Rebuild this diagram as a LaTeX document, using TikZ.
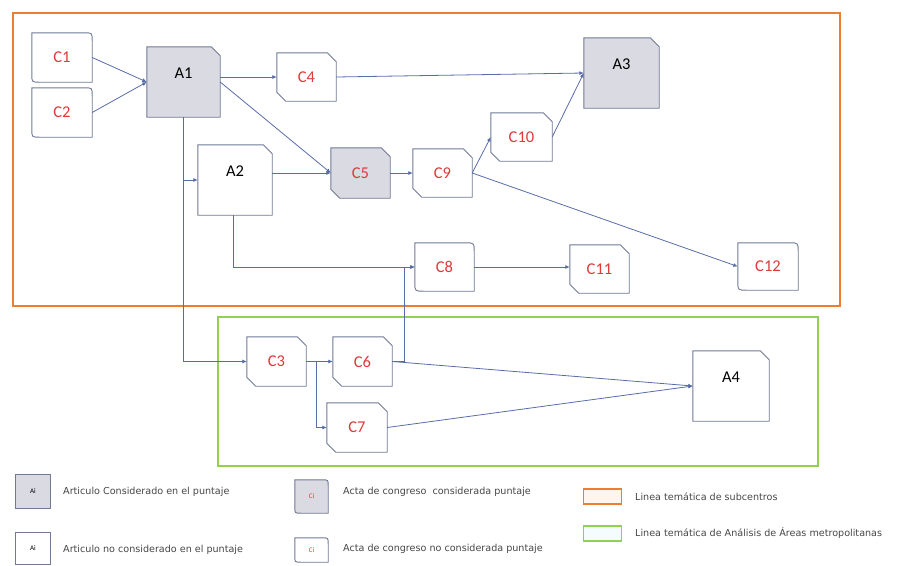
\documentclass[tikz,border=0pt]{standalone}
\usepackage{fontspec}
\setmainfont{Carlito}
\newfontfamily\legfont{DejaVu Sans}
\usetikzlibrary{arrows.meta,backgrounds}
\definecolor{bord}{RGB}{112,122,150}
\definecolor{gfill}{RGB}{218,218,226}
\definecolor{lred}{RGB}{222,58,58}
\definecolor{conn}{RGB}{88,108,168}
\definecolor{orng}{RGB}{237,125,49}
\definecolor{grn}{RGB}{146,208,80}
\definecolor{ltxt}{RGB}{70,70,70}
\newcommand\snipshape[3]{% name, fill, cut
  \draw[bord, line width=0.9pt, fill=#2] (#1.north west) -- ([xshift=-#3]#1.north east) -- ([yshift=-#3]#1.north east) -- (#1.south east) -- ([xshift=#3]#1.south west) -- ([yshift=#3]#1.south west) -- cycle;}
\newcommand\roundshape[3]{% name, fill, radius
  \draw[bord, line width=0.9pt, fill=#2] (#1.north west) -- ([xshift=-#3]#1.north east) .. controls (#1.north east) .. ([yshift=-#3]#1.north east) -- (#1.south east) -- ([xshift=#3]#1.south west) .. controls (#1.south west) .. ([yshift=#3]#1.south west) -- cycle;}
\newcommand\ashape[2]{% name, fill
  \draw[bord, line width=0.9pt, fill=#2] (#1.north west) -- ([xshift=-9pt]#1.north east) -- ([yshift=-9pt]#1.north east) -- (#1.south east) -- (#1.south west) -- cycle;}
\tikzset{
  cnode/.style={inner sep=0pt, text=lred, font=\fontsize{16.5}{16.5}\selectfont},
  anode/.style={inner sep=0pt, text=black, font=\fontsize{16.5}{16.5}\selectfont},
  alab/.style={text=black, font=\fontsize{16.5}{16.5}\selectfont, inner sep=0pt},
  conn/.style={draw=conn, line width=0.8pt, -{Latex[length=4.5pt,width=4pt]}},
  legtxt/.style={anchor=west, inner sep=0pt, text=ltxt, font=\legfont\fontsize{9.6}{9.6}\selectfont},
}
\begin{document}
\begin{tikzpicture}[x=1pt,y=-1pt]
\useasboundingbox (0,0) rectangle (905,565);
% frames
\draw[orng, line width=2pt] (13,13) rectangle (840,306);
\draw[grn, line width=2pt] (218,317) rectangle (818,466);
% nodes
\node[cnode, minimum width=60pt, minimum height=49pt] (C1) at (62,57.5) {C1};
\node[cnode, minimum width=60pt, minimum height=49pt] (C2) at (62,112.5) {C2};
\node[anode, minimum width=73pt, minimum height=70pt] (A1) at (183.5,82) {};
\node[cnode, minimum width=59pt, minimum height=48pt] (C4) at (306.5,77) {C4};
\node[anode, minimum width=75pt, minimum height=70pt] (A3) at (621.5,73) {};
\node[anode, minimum width=74pt, minimum height=70pt] (A2) at (235,180) {};
\node[cnode, minimum width=59pt, minimum height=50pt] (C5) at (360.5,173) {C5};
\node[cnode, minimum width=59pt, minimum height=48pt] (C9) at (442.5,173) {C9};
\node[cnode, minimum width=61pt, minimum height=48pt] (C10) at (521.5,137) {C10};
\node[cnode, minimum width=59pt, minimum height=48pt] (C8) at (444.5,267) {C8};
\node[cnode, minimum width=59pt, minimum height=48pt] (C11) at (599.5,269) {C11};
\node[cnode, minimum width=60pt, minimum height=47pt] (C12) at (768,266.5) {C12};
\node[cnode, minimum width=59pt, minimum height=49pt] (C3) at (276.5,361.5) {C3};
\node[cnode, minimum width=59pt, minimum height=49pt] (C6) at (362.5,361.5) {C6};
\node[cnode, minimum width=60pt, minimum height=49pt] (C7) at (357,427.5) {C7};
\node[anode, minimum width=76pt, minimum height=70pt] (A4) at (731,386) {};
% A labels (upper part of the box)
\node[alab] (A1l) at ([yshift=9pt]A1.center) {A1};
\node[alab] (A2l) at ([yshift=9pt]A2.center) {A2};
\node[alab] (A3l) at ([yshift=9pt]A3.center) {A3};
\node[alab] (A4l) at ([yshift=9pt]A4.center) {A4};
% legend nodes
\node[anode, minimum width=34pt, minimum height=33pt, font=\fontsize{7}{7}\selectfont] (LA1) at (33,491.5) {Ai};
\node[anode, minimum width=34pt, minimum height=31pt, font=\fontsize{7}{7}\selectfont] (LA2) at (33,548.5) {Ai};
\node[cnode, minimum width=33pt, minimum height=33pt, font=\fontsize{7}{7}\selectfont] (LC1) at (311.5,496.5) {Ci};
\node[cnode, minimum width=33pt, minimum height=24pt, font=\fontsize{7}{7}\selectfont] (LC2) at (311.5,550) {Ci};
\node[legtxt] (T1) at (63,492) {Articulo Considerado en el puntaje};
\node[legtxt] (T2) at (63,550) {Articulo no considerado en el puntaje};
\node[legtxt] (T3) at (343,492) {Acta de congreso\ \ considerada puntaje};
\node[legtxt] (T4) at (343,549) {Acta de congreso no considerada puntaje};
\node[legtxt] (T5) at (635,497) {Linea temática de subcentros};
\node[legtxt] (T6) at (635,533) {Linea temática de Análisis de Áreas metropolitanas};
\node[draw=orng, fill=orng!8, line width=1.5pt, minimum width=38pt, minimum height=15pt, inner sep=0pt] (LO) at (602.5,496.5) {};
\node[draw=grn, fill=cyan!4, line width=1.5pt, minimum width=38pt, minimum height=15pt, inner sep=0pt] (LG) at (602.5,533.5) {};
% shapes on background
\begin{scope}[on background layer]
\roundshape{C1}{white}{8pt}
\roundshape{C2}{white}{8pt}
\snipshape{C4}{white}{9pt}
\snipshape{C5}{gfill}{9pt}
\snipshape{C9}{white}{9pt}
\snipshape{C10}{white}{9pt}
\roundshape{C8}{white}{9pt}
\snipshape{C11}{white}{9pt}
\roundshape{C12}{white}{9pt}
\snipshape{C3}{white}{9pt}
\snipshape{C6}{white}{9pt}
\snipshape{C7}{white}{9pt}
\ashape{A1}{gfill}
\ashape{A2}{white}
\ashape{A3}{gfill}
\ashape{A4}{white}
\draw[bord, line width=0.8pt, fill=gfill] (LA1.north west) rectangle (LA1.south east);
\draw[bord, line width=0.8pt, fill=white] (LA2.north west) rectangle (LA2.south east);
\roundshape{LC1}{gfill}{6pt}
\roundshape{LC2}{white}{6pt}
\end{scope}
% connectors
\coordinate (j1) at (404,361.5);
\coordinate (j2) at (316,361.5);
\draw[conn] (C1.east) -- (A1.west);
\draw[conn] (C2.east) -- (A1.west);
\draw[conn] (A1.east |- C4.west) -- (C4.west);
\draw[conn] (C4.east) -- (A3.west);
\draw[conn] (A1.east) -- (C5.west);
\draw[conn] (A2.east |- C5.west) -- (C5.west);
\draw[conn] (A1.south) |- (C3.west);
\draw[conn] (A1.south |- A2.west) -- (A2.west);
\draw[conn] ([xshift=-2pt]A2.south) |- (C8.west);
\draw[conn] (C6.east) -- (j1) |- (C8.west);
\draw[conn] (C5.east) -- (C9.west);
\draw[conn] (C9.east) -- (C10.west);
\draw[conn] (C10.east) -- (A3.west);
\draw[conn] (C9.east) -- (C12.west);
\draw[conn] (C8.east) -- (C8.east -| C11.west);
\draw[conn] (C3.east) -- (C6.west);
\draw[conn] (C3.east) -- (j2) |- (C7.west);
\draw[conn] (C6.east) -- (A4.west);
\draw[conn] (C7.east) -- (A4.west);
\end{tikzpicture}
\end{document}
